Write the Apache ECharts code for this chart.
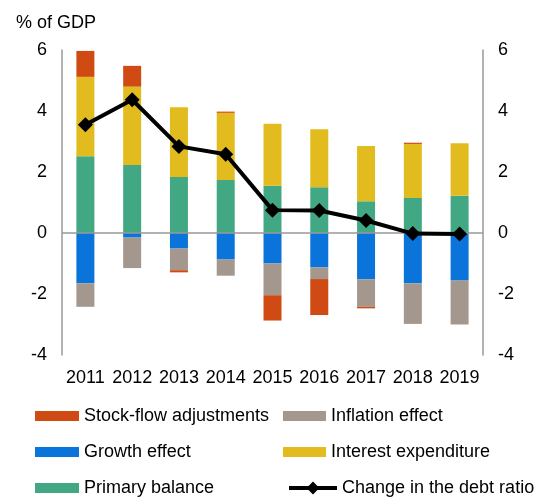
<!DOCTYPE html>
<html>
<head>
<meta charset="utf-8">
<script src="https://cdn.jsdelivr.net/npm/echarts@6/dist/echarts.min.js"></script>
<style>
html,body{margin:0;padding:0;background:#fff;}
#chart{width:538px;height:497px;}
</style>
</head>
<body>
<div id="chart"></div>
<script>
var years = ['2011','2012','2013','2014','2015','2016','2017','2018','2019'];
var primaryBalance = [2.52, 2.23, 1.84, 1.74, 1.55, 1.50, 1.04, 1.15, 1.22];
var growthEffect = [-1.65, -0.15, -0.51, -0.87, -1.00, -1.13, -1.52, -1.65, -1.56];
var interestExpenditure = [2.60, 2.57, 2.28, 2.20, 2.03, 1.90, 1.81, 1.77, 1.72];
var inflationEffect = [-0.77, -1.00, -0.71, -0.53, -1.04, -0.38, -0.90, -1.33, -1.44];
var stockFlow = [0.85, 0.68, -0.07, 0.04, -0.83, -1.18, -0.05, 0.04, 0.00];
var debtRatioChange = [3.55, 4.37, 2.84, 2.58, 0.75, 0.74, 0.41, -0.02, -0.03];
var yTicks = [-4, -2, 0, 2, 4, 6];

var colors = {
  sfa: '#D04A14',
  infl: '#A3978E',
  growth: '#0B74DA',
  interest: '#E2BC1F',
  primary: '#42A884',
  line: '#000000'
};
var font = 'Liberation Sans, Arial, sans-serif';
var fs = 18;
var chart = echarts.init(document.getElementById('chart'), null, {renderer: 'canvas'});
var barW = 18;
function barSeries(name, data, color, extra) {
  var s = {
    name: name, type: 'bar', stack: 'total', data: data, barWidth: barW,
    itemStyle: {color: color}, emphasis: {disabled: true}
  };
  if (extra) for (var k in extra) s[k] = extra[k];
  return s;
}
function yAxisBase(pos) {
  return {
    type: 'value', position: pos, min: yTicks[0], max: yTicks[yTicks.length - 1], interval: 2,
    axisLine: {show: true, lineStyle: {color: '#999999', width: 1.5}},
    axisTick: {show: false},
    splitLine: {show: false},
    axisLabel: {color: '#000', fontSize: fs, fontFamily: font, margin: 15}
  };
}
function legendItem(name, left, top, w, icon, h) {
  var d = {name: name};
  if (icon) d.icon = icon;
  return {
    orient: 'horizontal', left: left, top: top, itemWidth: w, itemHeight: h || 10, padding: 0,
    textStyle: {fontSize: fs, color: '#000', fontFamily: font},
    lineStyle: {width: 4},
    data: [d]
  };
}
var rowTops = [407, 443, 479];
chart.setOption({
  animation: false,
  title: {text: '% of GDP', left: 16, top: 14, padding: 0, textStyle: {fontSize: fs, fontWeight: 'normal', color: '#000', fontFamily: font}},
  grid: {left: 62, right: 55, top: 50, bottom: 142, containLabel: false},
  xAxis: {
    type: 'category', data: years,
    axisLine: {show: false}, axisTick: {show: false},
    axisLabel: {color: '#000', fontSize: fs, fontFamily: font, margin: 14, interval: 0, hideOverlap: false}
  },
  yAxis: [yAxisBase('left'), yAxisBase('right')],
  legend: [
    legendItem('Stock-flow adjustments', 35, rowTops[0], 44, 'rect'),
    legendItem('Growth effect', 35, rowTops[1], 44, 'rect'),
    legendItem('Primary balance', 35, rowTops[2], 44, 'rect'),
    legendItem('Inflation effect', 283, rowTops[0], 43, 'rect'),
    legendItem('Interest expenditure', 283, rowTops[1], 43, 'rect'),
    legendItem('Change in the debt ratio', 287, rowTops[2], 48, null, 16)
  ],
  series: [
    barSeries('Primary balance', primaryBalance, colors.primary, {
      markLine: {
        silent: true, symbol: 'none', label: {show: false},
        lineStyle: {color: '#999999', type: 'solid', width: 1.5},
        data: [{yAxis: 0}]
      }
    }),
    barSeries('Growth effect', growthEffect, colors.growth),
    barSeries('Interest expenditure', interestExpenditure, colors.interest),
    barSeries('Inflation effect', inflationEffect, colors.infl),
    barSeries('Stock-flow adjustments', stockFlow, colors.sfa),
    {
      name: 'Change in the debt ratio', type: 'line', data: debtRatioChange, z: 10,
      symbol: 'diamond', symbolSize: 15,
      lineStyle: {color: colors.line, width: 4},
      itemStyle: {color: colors.line},
      emphasis: {disabled: true}
    }
  ]
});
</script>
</body>
</html>
